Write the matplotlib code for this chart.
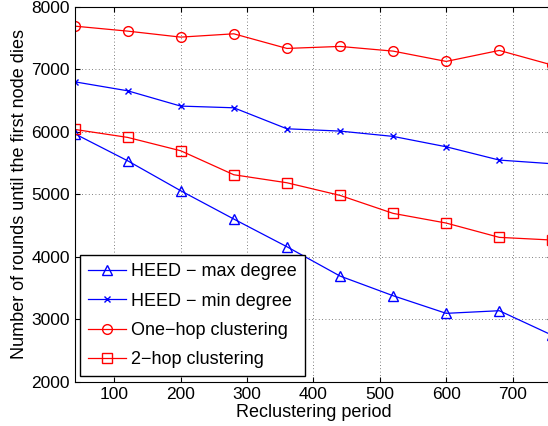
import matplotlib

matplotlib.use("Agg")
import matplotlib.pyplot as plt

plt.rcParams["font.family"] = ["Liberation Sans", "DejaVu Sans"]

periods = [40, 120, 200, 280, 360, 440, 520, 600, 680, 760]
heed_max = [5970, 5536, 5056, 4603, 4160, 3691, 3376, 3094, 3136, 2742]
heed_min = [6800, 6656, 6411, 6384, 6048, 6011, 5926, 5760, 5547, 5488]
one_hop = [7691, 7611, 7515, 7568, 7334, 7366, 7291, 7126, 7302, 7067]
two_hop = [6038, 5910, 5696, 5312, 5184, 4982, 4694, 4539, 4310, 4267]

series = [
    ("HEED \u2212 max degree", heed_max, "blue", "^"),
    ("HEED \u2212 min degree", heed_min, "blue", "x"),
    ("One\u2212hop clustering", one_hop, "red", "o"),
    ("2\u2212hop clustering", two_hop, "red", "s"),
]

fig = plt.figure(figsize=(5.48, 4.26), dpi=100)
ax = fig.add_axes([0.136, 0.104, 0.872, 0.880])

for label, values, color, marker in series:
    ax.plot(
        periods,
        values,
        color=color,
        marker=marker,
        markerfacecolor="none",
        markeredgecolor=color,
        markersize=7 if marker != "x" else 5,
        linewidth=0.9,
        label=label,
    )

ax.set_xlim(40, 760)
ax.set_ylim(2000, 8000)
ax.set_xticks(range(100, 800, 100))
ax.set_yticks(range(2000, 8001, 1000))
ax.tick_params(direction="in", labelsize=12.5, top=True, right=True)
ax.grid(True, linestyle=(0, (1, 3)), color="#555555", linewidth=0.6)
ax.set_xlabel("Reclustering period", fontsize=13, labelpad=2)
ax.set_ylabel("Number of rounds until the first node dies", fontsize=13, labelpad=2)

legend = ax.legend(
    loc="lower left",
    fontsize=13,
    handlelength=2.1,
    fancybox=False,
    edgecolor="black",
    framealpha=1,
    borderaxespad=0.3,
    borderpad=0.45,
    labelspacing=0.68,
    handletextpad=0.3,
)
legend.get_frame().set_linewidth(1.0)

fig.savefig("out.png", dpi=100)
